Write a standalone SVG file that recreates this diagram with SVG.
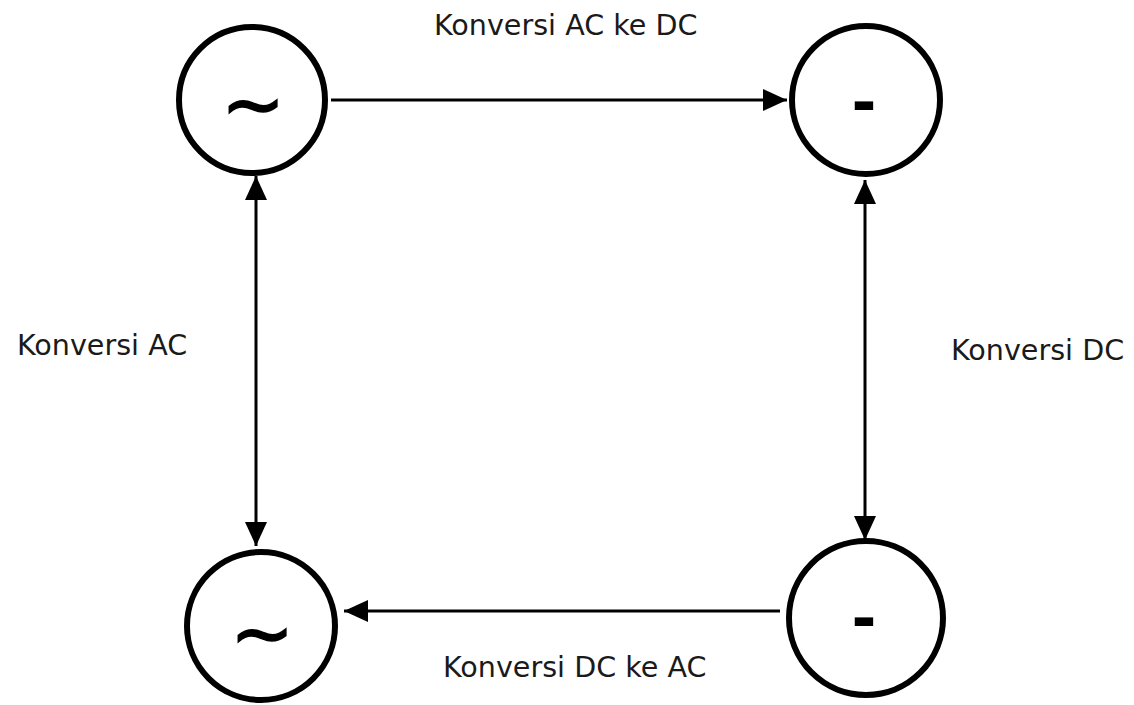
<svg xmlns="http://www.w3.org/2000/svg" width="1134" height="705" viewBox="0 0 1134 705">
<style>
.node{fill:#fff;stroke:#000;stroke-width:6}
.sym{font-family:"DejaVu Sans",sans-serif;fill:#000;text-anchor:middle}
.tilde{stroke:#000;stroke-width:1.5}
.dash{font-weight:bold}
.lbl{font-family:"DejaVu Sans",sans-serif;font-size:28.6px;fill:#1a1a1a}
.edge{stroke:#000;stroke-width:3;fill:none}
</style>
<defs>
<marker id="ah" viewBox="0 0 24 22" refX="24" refY="11" markerWidth="24" markerHeight="22" markerUnits="userSpaceOnUse" orient="auto-start-reverse">
<path d="M0,0 L24,11 L0,22 Z" fill="#000"/>
</marker>
</defs>
<rect width="1134" height="705" fill="#fff"/>
<g id="connectors">
<line class="edge" x1="331" y1="100" x2="787" y2="100" marker-end="url(#ah)"/>
<line class="edge" x1="780" y1="611" x2="344" y2="611" marker-end="url(#ah)"/>
<line class="edge" x1="256" y1="176" x2="256" y2="546" marker-start="url(#ah)" marker-end="url(#ah)"/>
<line class="edge" x1="865" y1="180" x2="865" y2="540" marker-start="url(#ah)" marker-end="url(#ah)"/>
</g>
<g id="node-ac-top">
<circle class="node" cx="252" cy="100" r="73"/>
<text class="sym tilde" x="253" y="130" font-size="76">~</text>
</g>
<g id="node-dc-top">
<circle class="node" cx="866" cy="100" r="74"/>
<text class="sym dash" x="864" y="123" font-size="60">-</text>
</g>
<g id="node-ac-bottom">
<circle class="node" cx="261" cy="626" r="74"/>
<text class="sym tilde" x="262" y="659" font-size="76">~</text>
</g>
<g id="node-dc-bottom">
<circle class="node" cx="866" cy="618" r="77"/>
<text class="sym dash" x="864" y="639" font-size="60">-</text>
</g>
<g id="labels">
<text class="lbl" x="434" y="35">Konversi AC ke DC</text>
<text class="lbl" x="443" y="677">Konversi DC ke AC</text>
<text class="lbl" x="17" y="355">Konversi AC</text>
<text class="lbl" x="951" y="360">Konversi DC</text>
</g>
</svg>
